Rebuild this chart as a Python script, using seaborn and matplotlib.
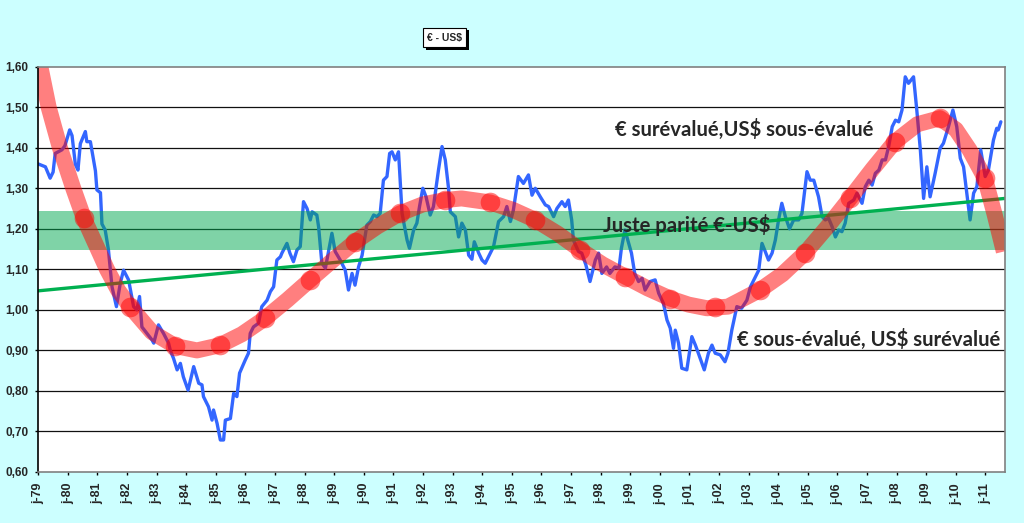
import numpy as np
import pandas as pd
import matplotlib
matplotlib.use("Agg")
import matplotlib.pyplot as plt
from matplotlib.patches import Rectangle
import seaborn as sns

# ---------------- data ----------------
# EUR/USD readings (decimal year, value)
blue_years = [
    1979.00, 1979.24, 1979.40, 1979.50, 1979.57, 1979.80, 1979.90, 1980.06, 1980.14, 1980.25,
    1980.34, 1980.42, 1980.59, 1980.64, 1980.76, 1980.93, 1980.98, 1981.10, 1981.15, 1981.26,
    1981.37, 1981.49, 1981.64, 1981.77, 1981.88, 1982.05, 1982.22, 1982.33, 1982.42, 1982.50,
    1982.67, 1982.84, 1982.90, 1983.06, 1983.23, 1983.40, 1983.46, 1983.57, 1983.69, 1983.80,
    1983.90, 1984.06, 1984.25, 1984.42, 1984.53, 1984.58, 1984.75, 1984.87, 1984.92, 1985.04,
    1985.15, 1985.26, 1985.32, 1985.49, 1985.60, 1985.71, 1985.80, 1985.99, 1986.10, 1986.16,
    1986.27, 1986.44, 1986.55, 1986.73, 1986.84, 1986.95, 1987.06, 1987.18, 1987.23, 1987.40,
    1987.50, 1987.62, 1987.74, 1987.85, 1987.96, 1988.08, 1988.19, 1988.25, 1988.41, 1988.47,
    1988.58, 1988.70, 1988.92, 1989.03, 1989.20, 1989.37, 1989.48, 1989.60, 1989.70, 1989.82,
    1989.94, 1990.10, 1990.22, 1990.33, 1990.44, 1990.55, 1990.66, 1990.78, 1990.87, 1990.95,
    1991.06, 1991.17, 1991.29, 1991.46, 1991.54, 1991.68, 1991.79, 1991.88, 1991.99, 1992.10,
    1992.24, 1992.35, 1992.52, 1992.64, 1992.75, 1992.86, 1992.92, 1993.09, 1993.20, 1993.31,
    1993.43, 1993.54, 1993.65, 1993.73, 1993.88, 1993.99, 1994.10, 1994.21, 1994.38, 1994.55,
    1994.72, 1994.83, 1994.95, 1995.05, 1995.22, 1995.39, 1995.56, 1995.68, 1995.79, 1995.96,
    1996.13, 1996.24, 1996.41, 1996.52, 1996.69, 1996.80, 1996.91, 1997.02, 1997.08, 1997.25,
    1997.36, 1997.50, 1997.64, 1997.82, 1997.93, 1998.04, 1998.20, 1998.31, 1998.48, 1998.62,
    1998.70, 1998.82, 1998.93, 1999.04, 1999.15, 1999.28, 1999.40, 1999.50, 1999.67, 1999.84,
    1999.96, 2000.12, 2000.24, 2000.35, 2000.46, 2000.52, 2000.63, 2000.74, 2000.91, 2001.08,
    2001.20, 2001.30, 2001.42, 2001.50, 2001.64, 2001.76, 2001.87, 2002.04, 2002.20, 2002.30,
    2002.43, 2002.60, 2002.76, 2002.94, 2003.06, 2003.23, 2003.34, 2003.45, 2003.56, 2003.67,
    2003.79, 2003.90, 2004.01, 2004.12, 2004.24, 2004.38, 2004.52, 2004.69, 2004.80, 2004.97,
    2005.08, 2005.20, 2005.36, 2005.48, 2005.59, 2005.70, 2005.82, 2005.93, 2006.04, 2006.15,
    2006.26, 2006.38, 2006.55, 2006.66, 2006.83, 2006.94, 2007.06, 2007.17, 2007.28, 2007.40,
    2007.51, 2007.62, 2007.73, 2007.85, 2007.96, 2008.07, 2008.18, 2008.29, 2008.40, 2008.57,
    2008.68, 2008.80, 2008.91, 2009.02, 2009.13, 2009.30, 2009.47, 2009.58, 2009.75, 2009.90,
    2010.03, 2010.15, 2010.26, 2010.37, 2010.48, 2010.60, 2010.71, 2010.84, 2010.99, 2011.10,
    2011.27, 2011.38, 2011.43, 2011.52,
]
blue_vals = [
    1.360, 1.353, 1.325, 1.340, 1.386, 1.395, 1.405, 1.444, 1.430, 1.360,
    1.345, 1.410, 1.440, 1.415, 1.415, 1.343, 1.296, 1.289, 1.212, 1.197,
    1.148, 1.057, 1.008, 1.066, 1.098, 1.074, 1.008, 1.000, 1.033, 0.958,
    0.942, 0.926, 0.918, 0.963, 0.942, 0.918, 0.900, 0.880, 0.852, 0.868,
    0.835, 0.802, 0.860, 0.819, 0.815, 0.786, 0.761, 0.728, 0.753, 0.720,
    0.679, 0.679, 0.728, 0.732, 0.794, 0.786, 0.844, 0.876, 0.893, 0.942,
    0.958, 0.967, 1.008, 1.024, 1.045, 1.057, 1.123, 1.131, 1.140, 1.164,
    1.140, 1.119, 1.148, 1.156, 1.267, 1.250, 1.222, 1.242, 1.234, 1.205,
    1.115, 1.103, 1.189, 1.144, 1.123, 1.098, 1.049, 1.090, 1.061, 1.106,
    1.135, 1.209, 1.218, 1.234, 1.230, 1.238, 1.320, 1.329, 1.386, 1.390,
    1.370, 1.390, 1.238, 1.172, 1.152, 1.197, 1.214, 1.255, 1.300, 1.279,
    1.234, 1.255, 1.345, 1.403, 1.370, 1.300, 1.242, 1.230, 1.180, 1.214,
    1.197, 1.135, 1.125, 1.168, 1.140, 1.123, 1.115, 1.131, 1.156, 1.218,
    1.230, 1.255, 1.218, 1.246, 1.329, 1.312, 1.333, 1.283, 1.300, 1.279,
    1.259, 1.255, 1.230, 1.250, 1.267, 1.255, 1.271, 1.222, 1.172, 1.144,
    1.140, 1.111, 1.070, 1.123, 1.140, 1.090, 1.106, 1.090, 1.106, 1.103,
    1.152, 1.197, 1.168, 1.140, 1.090, 1.070, 1.078, 1.049, 1.070, 1.074,
    1.041, 1.016, 0.975, 0.955, 0.905, 0.950, 0.918, 0.856, 0.852, 0.934,
    0.913, 0.893, 0.868, 0.852, 0.893, 0.913, 0.893, 0.889, 0.872, 0.893,
    0.950, 1.008, 1.004, 1.024, 1.057, 1.082, 1.098, 1.164, 1.144, 1.123,
    1.140, 1.172, 1.222, 1.263, 1.230, 1.200, 1.222, 1.222, 1.238, 1.341,
    1.320, 1.320, 1.279, 1.230, 1.222, 1.226, 1.205, 1.180, 1.197, 1.193,
    1.214, 1.263, 1.271, 1.288, 1.263, 1.304, 1.320, 1.308, 1.337, 1.345,
    1.370, 1.370, 1.403, 1.452, 1.468, 1.464, 1.493, 1.575, 1.559, 1.575,
    1.493, 1.395, 1.275, 1.353, 1.279, 1.337, 1.399, 1.411, 1.452, 1.493,
    1.452, 1.374, 1.353, 1.288, 1.222, 1.288, 1.304, 1.395, 1.329, 1.345,
    1.419, 1.448, 1.444, 1.464,
]

# long-cycle trend (red band)
cycle_years = [1978.93, 1979.07, 1979.35, 1979.73, 1980.18, 1980.54, 1980.95, 1981.32, 1981.70,
               1982.10, 1982.84, 1983.62, 1984.36, 1985.14, 1985.88, 1986.66, 1987.42,
               1988.18, 1988.94, 1989.70, 1990.46, 1991.22, 1991.98, 1992.74, 1993.30,
               1994.27, 1995.03, 1995.79, 1996.55, 1997.31, 1998.07, 1998.83, 1999.59,
               2000.35, 2000.97, 2001.59, 2002.30, 2003.38, 2004.14, 2004.90, 2005.66,
               2006.42, 2007.18, 2007.94, 2008.70, 2009.46, 2010.00, 2010.46, 2010.98,
               2011.30, 2011.62]
cycle_vals = [1.625, 1.600, 1.500, 1.400, 1.300, 1.226, 1.160, 1.100, 1.048,
              1.008, 0.945, 0.911, 0.900, 0.913, 0.940, 0.979, 1.025,
              1.074, 1.122, 1.168, 1.206, 1.238, 1.260, 1.271, 1.275,
              1.265, 1.247, 1.222, 1.188, 1.148, 1.112, 1.082, 1.053,
              1.028, 1.013, 1.004, 1.008, 1.049, 1.088, 1.140, 1.205,
              1.275, 1.347, 1.415, 1.458, 1.473, 1.445, 1.395, 1.325,
              1.238, 1.144]

# dots marked along the cycle curve
dot_years = [1980.54, 1982.10, 1983.62, 1985.14, 1986.66, 1988.18, 1989.70, 1991.22,
             1992.74, 1994.27, 1995.79, 1997.31, 1998.83, 2000.35, 2001.86, 2003.38,
             2004.90, 2006.42, 2007.94, 2009.46, 2010.98]
dot_vals = [1.226, 1.008, 0.911, 0.913, 0.979, 1.074, 1.168, 1.238,
            1.271, 1.265, 1.222, 1.148, 1.082, 1.028, 1.008, 1.049,
            1.140, 1.275, 1.415, 1.473, 1.325]

# fair-parity linear trend and band
trend_years = [1979.0, 2011.66]
trend_vals = [1.047, 1.275]
fair_low, fair_high = 1.148, 1.243

tick_years = list(range(1979, 2012))
tick_labels = ["j-%02d" % (y % 100) for y in tick_years]
y_ticks = [0.6, 0.7, 0.8, 0.9, 1.0, 1.1, 1.2, 1.3, 1.4, 1.5, 1.6]
y_labels = ["0,60", "0,70", "0,80", "0,90", "1,00", "1,10", "1,20", "1,30", "1,40", "1,50", "1,60"]

blue_df = pd.DataFrame({"year": blue_years, "value": blue_vals})
cycle_df = pd.DataFrame({"year": cycle_years, "value": cycle_vals})
dots_df = pd.DataFrame({"year": dot_years, "value": dot_vals})
trend_df = pd.DataFrame({"year": trend_years, "value": trend_vals})

# ---------------- figure ----------------
sns.set_style("white")
plt.rcParams["font.family"] = ["Liberation Sans", "DejaVu Sans"]

BG = "#CCFFFF"
fig = plt.figure(figsize=(10.24, 5.23), dpi=100, facecolor=BG)
ax = fig.add_axes([38.3 / 1024, 1 - 472 / 523, (1005 - 38.3) / 1024, (472 - 66.7) / 523])
ax.set_facecolor("white")

sns.lineplot(data=blue_df, x="year", y="value", ax=ax, color="#3366FF", linewidth=2.4,
             sort=True, estimator=None, zorder=2)
ax.axhspan(fair_low, fair_high, color="#00A850", alpha=0.5, lw=0, zorder=3)
sns.lineplot(data=trend_df, x="year", y="value", ax=ax, color="#00B050", linewidth=2.4,
             estimator=None, zorder=4)
sns.lineplot(data=cycle_df, x="year", y="value", ax=ax, color="#FF0000", alpha=0.5,
             linewidth=11.5, estimator=None, zorder=5, solid_capstyle="butt",
             solid_joinstyle="round")
sns.scatterplot(data=dots_df, x="year", y="value", ax=ax, color="#FF0000", alpha=0.5,
                s=200, linewidth=0, zorder=6)

ax.set_xlim(1979.0, 2011.66)
ax.set_ylim(0.6, 1.6)
ax.set_xlabel("")
ax.set_ylabel("")

ax.set_yticks(y_ticks)
ax.set_yticklabels(y_labels, fontsize=8.5, fontweight="bold")
ax.set_xticks(tick_years)
ax.set_xticklabels(tick_labels, rotation=90, fontsize=9, fontweight="bold")
ax.tick_params(axis="y", direction="out", length=2.5, width=1, color="black", pad=4.7, left=True)
ax.tick_params(axis="x", direction="out", length=2.5, width=1, color="black", pad=5.4, bottom=True)

for yv in y_ticks[1:-1]:
    ax.axhline(yv, color="#111111", lw=0.9, zorder=1)

for side in ["top", "right", "bottom"]:
    ax.spines[side].set_color("#808080")
    ax.spines[side].set_linewidth(1.2)
ax.spines["left"].set_color("black")
ax.spines["left"].set_linewidth(1.2)
for s in ax.spines.values():
    s.set_visible(True)
    s.set_zorder(7)

# annotations
afont = ["Lato", "DejaVu Sans"]
ax.text(1998.48, 1.444, "€ surévalué,US$ sous-évalué", fontsize=14.6, fontweight="bold",
        family=afont, ha="left", va="center", zorder=8)
ax.text(1998.09, 1.209, "Juste parité €-US$", fontsize=14.6, fontweight="bold",
        family=afont, ha="left", va="center", zorder=8)
ax.text(2002.59, 0.926, "€ sous-évalué, US$ surévalué", fontsize=14.6, fontweight="bold",
        family=afont, ha="left", va="center", zorder=8)

# title box with drop shadow
W, H = 1024.0, 523.0
bx0, by0, bx1, by1 = 423, 28, 466, 47
fig.add_artist(Rectangle(((bx0 + 2.5) / W, 1 - (by1 + 2.5) / H), (bx1 - bx0) / W, (by1 - by0) / H,
                         transform=fig.transFigure, facecolor="black", edgecolor="none"))
fig.add_artist(Rectangle((bx0 / W, 1 - by1 / H), (bx1 - bx0) / W, (by1 - by0) / H,
                         transform=fig.transFigure, facecolor="white", edgecolor="black", lw=0.8))
fig.text((bx0 + bx1) / 2 / W, 1 - (by0 + by1) / 2 / H, "€ - US$", fontsize=7.5,
         fontweight="bold", ha="center", va="center")

fig.savefig("out.png", dpi=100, facecolor=BG)
